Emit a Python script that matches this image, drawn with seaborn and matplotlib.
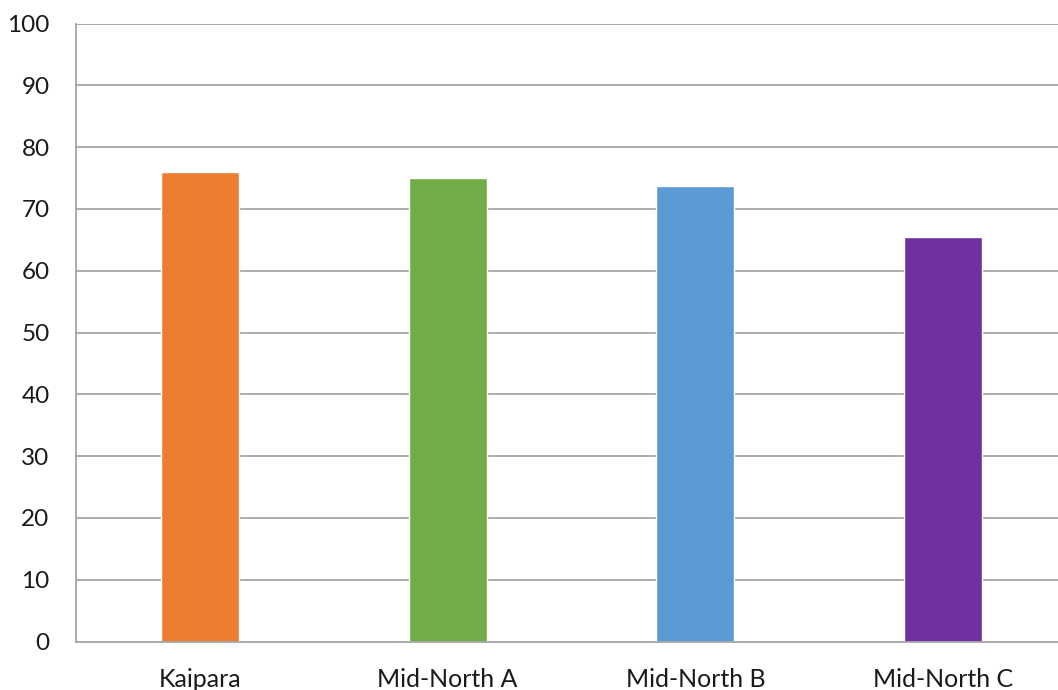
import matplotlib
matplotlib.use("Agg")
import matplotlib.pyplot as plt
import seaborn as sns
import pandas as pd

# data
regions = ["Kaipara", "Mid-North A", "Mid-North B", "Mid-North C"]
values = [75.9, 75.0, 73.7, 65.4]
colors = ["#ED7D31", "#70AD47", "#5B9BD5", "#7030A0"]
yticks = [0, 10, 20, 30, 40, 50, 60, 70, 80, 90, 100]

df = pd.DataFrame({"region": regions, "value": values})

sns.set_style("white")
plt.rcParams['font.family'] = ['Lato', 'DejaVu Sans']

fig = plt.figure(figsize=(10.58, 6.9), dpi=100)
# axes runs off the right edge like the original
ax = fig.add_axes([76 / 1058, (690 - 641.5) / 690, 991 / 1058, 618 / 690])

sns.barplot(data=df, x="region", y="value", hue="region", palette=colors,
            width=0.315, dodge=False, legend=False, saturation=1, ax=ax)

ax.set_xlim(-0.5, 3.5)
ax.set_ylim(0, 100)
ax.set_yticks(yticks)
ax.set_yticklabels([str(t) for t in yticks])
ax.yaxis.grid(True, color="#A6A6A6", linewidth=1.3)
ax.set_axisbelow(True)
for s in ["top", "right"]:
    ax.spines[s].set_visible(False)
ax.spines["left"].set_color("#A6A6A6")
ax.spines["bottom"].set_color("#A6A6A6")
ax.spines["left"].set_linewidth(1.3)
ax.spines["bottom"].set_linewidth(1.3)
ax.tick_params(axis="y", length=0, pad=19, labelsize=17.5, labelcolor="#1a1a1a")
ax.tick_params(axis="x", length=0, pad=19, labelsize=18, labelcolor="#1a1a1a")
ax.set_xlabel("")
ax.set_ylabel("")

fig.savefig("out.png", dpi=100)
